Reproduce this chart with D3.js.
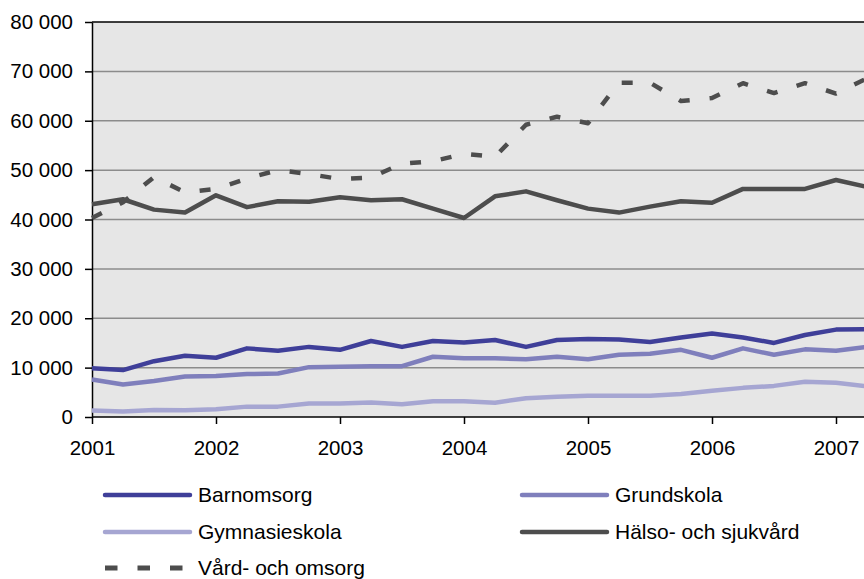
<!DOCTYPE html>
<html><head><meta charset="utf-8">
<script src="https://cdn.jsdelivr.net/npm/d3@7"></script>
<style>
body{margin:0;background:#fff;}
text{font-family:"Liberation Sans",Arial,sans-serif;}
</style></head>
<body><svg id="c" width="864" height="579"></svg>
<script>
const quarters = [2001,2001.25,2001.5,2001.75,2002,2002.25,2002.5,2002.75,2003,2003.25,2003.5,2003.75,2004,2004.25,2004.5,2004.75,2005,2005.25,2005.5,2005.75,2006,2006.25,2006.5,2006.75,2007,2007.25];
const barnomsorg = [9850,9500,11300,12400,12000,13900,13400,14200,13600,15400,14200,15400,15100,15600,14200,15600,15800,15700,15200,16100,16900,16100,15000,16600,17700,17800];
const grundskola = [7600,6600,7300,8200,8300,8700,8800,10100,10200,10300,10300,12200,11900,11900,11700,12200,11700,12600,12800,13600,12000,13900,12600,13700,13400,14200];
const gymnasieskola = [1300,1100,1400,1350,1550,2100,2100,2750,2750,2950,2600,3200,3200,2900,3800,4100,4300,4300,4300,4650,5300,5900,6300,7150,6950,6200];
const halso = [43100,44100,42000,41400,44900,42500,43700,43600,44500,43900,44100,42200,40300,44700,45700,43900,42200,41400,42600,43700,43400,46200,46200,46200,48000,46600];
const vard = [40300,43500,48600,45500,46200,48300,50000,49200,48200,48500,51300,51800,53300,52700,59200,60800,59500,67700,67700,64000,64600,67600,65600,67600,65500,68600];
const yTicks = [0,10000,20000,30000,40000,50000,60000,70000,80000];
const xTicks = [2001,2002,2003,2004,2005,2006,2007];
const seriesNames = ["Barnomsorg","Grundskola","Gymnasieskola","Hälso- och sjukvård","Vård- och omsorg"];
const seriesColors = ["#3f3f99","#7f7fbc","#a6a6d2","#4d4d4d","#4d4d4d"];
const seriesData = [barnomsorg,grundskola,gymnasieskola,halso,vard];

(function(){
const svg = d3.select("#c");
const pL=92, pT=22, pB=417, pR=1000;
const x = d3.scaleLinear().domain([2001,2007]).range([pL,836]);
const y = d3.scaleLinear().domain([0,80000]).range([pB,pT]);
const loc = d3.formatLocale({decimal:",",thousands:"\u00a0",grouping:[3],currency:["",""]});
const fmt = loc.format(",d");

svg.append("rect").attr("x",pL).attr("y",pT).attr("width",pR-pL).attr("height",pB-pT).attr("fill","#e6e6e6");
svg.append("g").selectAll("line").data(yTicks.filter(d=>d>0 && d<80000)).join("line")
  .attr("x1",pL).attr("x2",pR).attr("y1",d=>y(d)).attr("y2",d=>y(d))
  .attr("stroke","#8c8c8c").attr("stroke-width",1.5);
svg.append("line").attr("x1",pL).attr("x2",pR).attr("y1",pT).attr("y2",pT).attr("stroke","#000").attr("stroke-width",1.5);

const ya = svg.append("g").attr("transform",`translate(${pL},0)`)
  .call(d3.axisLeft(y).tickValues(yTicks).tickFormat(fmt).tickSize(7).tickSizeOuter(0).tickPadding(12));
ya.select(".domain").attr("stroke","#000").attr("stroke-width",1.5);
ya.selectAll(".tick line").attr("stroke","#000").attr("stroke-width",1.5);
ya.selectAll("text").attr("font-size",20.5).attr("fill","#000").attr("font-family","Liberation Sans, Arial, sans-serif");

const xa = svg.append("g").attr("transform",`translate(0,${pB})`)
  .call(d3.axisBottom(x).tickValues(xTicks).tickFormat(d3.format("d")).tickSize(7).tickSizeOuter(0).tickPadding(16));
xa.select(".domain").attr("d",`M${pL},0H${pR}`).attr("stroke","#000").attr("stroke-width",1.5);
xa.selectAll(".tick line").attr("stroke","#000").attr("stroke-width",1.5);
xa.selectAll("text").attr("font-size",20.5).attr("fill","#000").attr("font-family","Liberation Sans, Arial, sans-serif");

const line = d3.line().x((d,i)=>x(quarters[i])).y(d=>y(d));
seriesData.forEach((s,k)=>{
  svg.append("path").datum(s).attr("d",line).attr("fill","none")
    .attr("stroke",seriesColors[k]).attr("stroke-width",4.5)
    .attr("stroke-linejoin","round")
    .attr("stroke-dasharray",k===4?"11,20":null);
});

const legPos = [[105,495],[522,495],[105,532],[522,532],[105,568]];
seriesNames.forEach((n,k)=>{
  const [lx,ly]=legPos[k];
  svg.append("line").attr("x1",lx).attr("x2",lx+85).attr("y1",ly).attr("y2",ly)
    .attr("stroke",seriesColors[k]).attr("stroke-width",k===4?5:4.5)
    .attr("stroke-linecap",k===4?"butt":"round")
    .attr("stroke-dasharray",k===4?"12.5,20":null);
  svg.append("text").attr("x",lx+93).attr("y",ly+7).attr("font-size",21).attr("fill","#000").text(n);
});
})();
</script></body></html>
